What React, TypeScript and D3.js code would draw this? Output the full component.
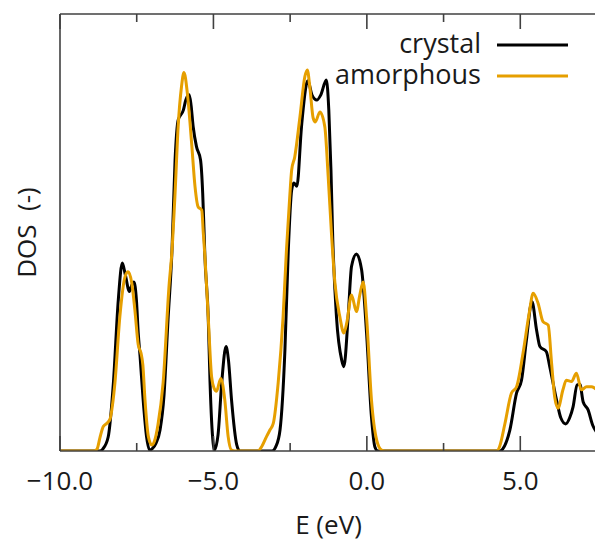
import React from "react";
import * as d3 from "d3";

// Energy grid (eV) and density of states (arbitrary units) for each phase
const crystalE = [
  -10, -8.7, -8.6, -8.43, -8.26, -8.1, -7.97, -7.87, -7.74, -7.67, -7.59, -7.51, -7.45, -7.39, -7.29,
  -7.18, -7.08, -7.0, -6.87, -6.74, -6.61, -6.48, -6.35, -6.25, -6.15, -5.98, -5.9, -5.79, -5.73,
  -5.66, -5.55, -5.42, -5.35, -5.31, -5.28, -5.17, -5.11, -5.01, -4.97, -4.85, -4.73, -4.59, -4.51,
  -4.41, -4.24, -4.14, -3.09, -2.96, -2.83, -2.67, -2.56, -2.45, -2.38, -2.28, -2.13, -1.96, -1.92,
  -1.79, -1.63, -1.5, -1.32, -1.24, -1.17, -1.11, -0.99, -0.82, -0.75, -0.61, -0.5, -0.34, -0.17,
  -0.01, 0.15, 0.26, 0.36, 4.33, 4.43, 4.66, 4.88, 5.04, 5.2, 5.38, 5.53, 5.64, 5.85, 5.96, 6.18,
  6.32, 6.48, 6.61, 6.72, 6.85, 6.94, 7.05, 7.21, 7.36, 7.49,
];
const crystalDOS = [
  0, 0, 0.05, 0.32, 1.56, 3.46, 4.3, 4.03, 3.65, 3.78, 3.87, 3.46, 2.7, 2.16, 1.17,
  0.33, 0.02, 0.05, 0.18, 0.48, 1.28, 3.0, 4.6, 6.66, 7.57, 7.8, 8.03, 8.15, 7.92,
  7.42, 6.96, 6.66, 5.9, 5.13, 4.49, 3.07, 1.56, 0.18, 0.02, 0.37, 1.56, 2.39, 2.08,
  1.17, 0.14, 0, 0, 0.11, 0.48, 2.31, 4.6, 5.97, 6.13, 6.06, 7.42, 8.42, 8.47,
  8.15, 8.03, 8.15, 8.49, 7.8, 6.43, 4.83, 3.07, 2.08, 1.93, 3.07, 4.22, 4.51, 4.14,
  2.7, 0.78, 0.1, 0, 0, 0.05, 0.48, 1.33, 1.62, 2.54, 3.42, 2.77, 2.39, 2.27, 1.93, 1.17,
  0.76, 0.62, 0.76, 1.01, 1.51, 1.53, 1.12, 0.94, 0.59, 0.43,
];

const amorphousE = [
  -10, -8.89, -8.79, -8.7, -8.59, -8.48, -8.37, -8.29, -8.21, -8.05, -7.88, -7.78, -7.66, -7.56,
  -7.45, -7.36, -7.3, -7.23, -7.12, -7.01, -6.92, -6.81, -6.64, -6.44, -6.36, -6.25, -6.15, -6.04,
  -5.96, -5.85, -5.71, -5.6, -5.5, -5.38, -5.33, -5.28, -5.17, -5.06, -4.98, -4.9, -4.76, -4.63,
  -4.52, -4.41, -4.3, -3.55, -3.42, -3.27, -3.16, -3.05, -2.89, -2.73, -2.62, -2.52, -2.45, -2.35,
  -2.18, -2.02, -1.94, -1.86, -1.75, -1.68, -1.53, -1.37, -1.26, -1.15, -1.04, -0.88, -0.75, -0.65,
  -0.5, -0.34, -0.23, -0.12, -0.01, 0.15, 0.32, 0.48, 0.59, 4.23, 4.33, 4.5, 4.71, 4.88, 5.09, 5.29,
  5.42, 5.58, 5.74, 5.91, 6.02, 6.12, 6.23, 6.39, 6.5, 6.67, 6.83, 6.99, 7.16, 7.32, 7.49,
];
const amorphousDOS = [
  0, 0, 0.05, 0.3, 0.56, 0.63, 0.73, 1.05, 1.56, 3.07, 3.99, 4.1, 3.84, 3.23,
  2.43, 2.24, 1.97, 1.17, 0.33, 0.14, 0.23, 0.59, 1.56, 3.84, 4.49, 5.9, 7.42, 8.34,
  8.66, 8.19, 7.04, 6.05, 5.59, 5.51, 4.99, 4.49, 3.07, 1.7, 1.44, 1.37, 1.66, 1.17,
  0.33, 0.02, 0, 0, 0.11, 0.33, 0.48, 0.63, 1.56, 3.07, 4.6, 5.74, 6.43, 6.73,
  7.65, 8.57, 8.72, 8.34, 7.62, 7.53, 7.76, 7.42, 6.28, 4.94, 3.84, 3.07, 2.7, 2.95,
  3.57, 3.19, 3.57, 3.87, 3.07, 1.17, 0.25, 0.02, 0, 0, 0.11, 0.63, 1.32, 1.47, 2.24, 3.15,
  3.61, 3.38, 2.96, 2.88, 2.01, 1.24, 0.98, 1.4, 1.62, 1.59, 1.78, 1.4, 1.47, 1.47, 1.4,
];

const seriesNames = ["crystal", "amorphous"];
const seriesColors = ["#000000", "#E69F00"];

const majorTicks = [-10, -5, 0, 5];
const majorTickLabels = ["\u221210.0", "\u22125.0", "0.0", "5.0"];
const minorTicks = [-7.5, -2.5, 2.5, 7.5];

const xDomain = [-10, 7.5];
const yDomain = [0, 10];

const W = 595;
const H = 541;
const plot = { left: 60, right: 597, top: 14, bottom: 451 };
const FONT = "'Open Sans', 'Noto Sans', sans-serif";
const AXIS = "#404040";
const TEXT = "#1a1a1a";

export default function App() {
  const x = d3.scaleLinear().domain(xDomain).range([plot.left, plot.right]);
  const y = d3.scaleLinear().domain(yDomain).range([plot.bottom, plot.top]);

  const line = d3
    .line<[number, number]>()
    .x((d) => x(d[0]))
    .y((d) => y(d[1]))
    .curve(d3.curveMonotoneX);

  const series = [
    crystalE.map((e, i) => [e, crystalDOS[i]] as [number, number]),
    amorphousE.map((e, i) => [e, amorphousDOS[i]] as [number, number]),
  ];

  const legendY = [45, 76];

  return (
    <svg
      width={W}
      height={H}
      style={{ position: "fixed", left: 0, top: 0, background: "#fff" }}
      fontFamily={FONT}
    >
      <defs>
        <clipPath id="plot-area">
          <rect x={plot.left} y={plot.top - 10} width={plot.right - plot.left} height={plot.bottom - plot.top + 10} />
        </clipPath>
      </defs>
      <rect x={0} y={0} width={W} height={H} fill="#fff" />

      {/* DOS curves */}
      <g clipPath="url(#plot-area)">
        {series.map((s, i) => (
          <path
            key={seriesNames[i]}
            d={line(s) || ""}
            fill="none"
            stroke={seriesColors[i]}
            strokeWidth={3}
            strokeLinejoin="round"
            strokeLinecap="round"
          />
        ))}
      </g>

      {/* frame */}
      <g stroke={AXIS} strokeWidth={1.6} fill="none">
        <line x1={plot.left} x2={plot.left} y1={plot.top} y2={plot.bottom} />
        <line x1={plot.left} x2={plot.right} y1={plot.top} y2={plot.top} />
        <line x1={plot.left} x2={plot.right} y1={plot.bottom} y2={plot.bottom} />
        <line x1={plot.right} x2={plot.right} y1={plot.top} y2={plot.bottom} />
        {majorTicks.map((t) => (
          <g key={"M" + t}>
            <line x1={x(t)} x2={x(t)} y1={plot.bottom} y2={plot.bottom - 15} />
            <line x1={x(t)} x2={x(t)} y1={plot.top} y2={plot.top + 15} />
          </g>
        ))}
        {minorTicks.map((t) => (
          <g key={"m" + t}>
            <line x1={x(t)} x2={x(t)} y1={plot.bottom} y2={plot.bottom - 8} />
            <line x1={x(t)} x2={x(t)} y1={plot.top} y2={plot.top + 8} />
          </g>
        ))}
      </g>

      {/* tick labels */}
      <g fontSize={26} fill={TEXT} textAnchor="middle">
        {majorTicks.map((t, i) => (
          <text key={"l" + t} x={x(t)} y={490}>
            {majorTickLabels[i]}
          </text>
        ))}
      </g>

      {/* axis titles */}
      <text x={(plot.left + plot.right) / 2} y={534} fontSize={26} fill={TEXT} textAnchor="middle">
        E (eV)
      </text>
      <text
        transform={`translate(36, ${(plot.top + plot.bottom) / 2}) rotate(-90)`}
        fontSize={26}
        fill={TEXT}
        textAnchor="middle"
        style={{ whiteSpace: "pre" }}
      >
        {"DOS  (-)"}
      </text>

      {/* legend */}
      <g fontSize={27} fill={TEXT}>
        {seriesNames.map((name, i) => (
          <g key={"leg" + name}>
            <text x={481} y={legendY[i] + 8} textAnchor="end">
              {name}
            </text>
            <line x1={497} x2={568} y1={legendY[i]} y2={legendY[i]} stroke={seriesColors[i]} strokeWidth={3} />
          </g>
        ))}
      </g>
    </svg>
  );
}
